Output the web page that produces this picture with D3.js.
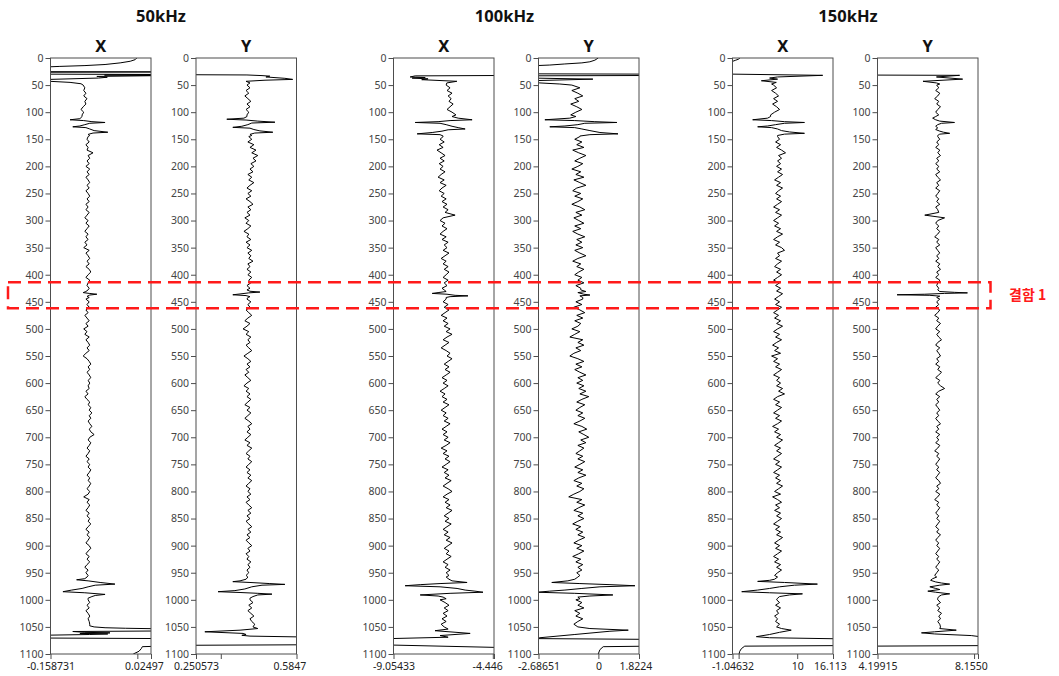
<!DOCTYPE html>
<html>
<head>
<meta charset="utf-8">
<script src="https://cdn.jsdelivr.net/npm/d3@7"></script>
<style>
  body { margin: 0; background: #fff; }
  svg { display: block; }
</style>
</head>
<body>
<svg id="chart" width="1059" height="676"></svg>
<script>
// ---------------- data ----------------
const frequencies = ["50kHz", "100kHz", "150kHz"];
const depthTicks = d3.range(0, 1101, 50);
const bodyDepths = d3.range(50, 1046, 5);   // regular sampling depths; null = taken from a burst list
const defectDepth = [414, 462];
const defectLabel = "결함 1";

// 50kHz X
const x50Domain = [-0.158731, 0.02497];
const x50Ticks = [-0.158731, 0, 0.02497];
const x50Labels = ["-0.158731", "", "0.02497"];
const x50Head = [[0,-0.0011],[3,-0.0039],[6,-0.013],[9,-0.0314],[12,-0.059],[14,-0.0957],[15.5,-0.1416],[17,-0.178],[25.3,-0.178],[25.7,0.042],[26.2,-0.178],[29.8,-0.178],[30.4,0.042],[31.5,-0.06],[32.5,0.042],[34,-0.074],[35.5,-0.055],[37,-0.071],[39.5,-0.16],[42,-0.178],[43,-0.16],[45,-0.123],[47.5,-0.103]];
const x50Body = [
  -0.099,-0.096,-0.098,-0.094,-0.098,-0.092,-0.096,-0.094,-0.099,-0.103,
  -0.098,-0.101,null,null,null,null,null,null,null,-0.090,
  -0.092,-0.088,-0.094,-0.090,-0.092,-0.081,-0.090,-0.087,-0.092,-0.088,
  -0.094,-0.087,-0.092,-0.088,-0.094,-0.090,-0.087,-0.092,-0.088,-0.094,
  -0.090,-0.087,-0.092,-0.088,-0.094,-0.090,-0.094,-0.088,-0.092,-0.096,
  -0.090,-0.094,-0.088,-0.092,-0.096,-0.090,-0.094,-0.090,-0.096,-0.092,
  -0.098,-0.088,-0.094,-0.090,-0.087,-0.092,-0.088,-0.094,-0.088,-0.085,
  -0.090,-0.094,-0.087,-0.090,-0.092,-0.088,null,null,null,-0.094,
  -0.088,-0.092,-0.088,-0.094,-0.090,-0.096,-0.092,-0.088,-0.094,-0.090,
  -0.098,-0.092,-0.096,-0.088,-0.094,-0.090,-0.087,-0.092,-0.088,-0.094,
  -0.099,-0.092,-0.088,-0.085,-0.090,-0.087,-0.092,-0.088,-0.085,-0.090,
  -0.087,-0.090,-0.088,-0.094,-0.090,-0.096,-0.092,-0.087,-0.090,-0.085,
  -0.088,-0.083,-0.088,-0.085,-0.090,-0.087,-0.083,-0.088,-0.085,-0.079,
  -0.087,-0.090,-0.085,-0.088,-0.092,-0.087,-0.090,-0.094,-0.088,-0.092,
  -0.087,-0.090,-0.085,-0.088,-0.092,-0.087,-0.090,-0.085,-0.088,-0.092,
  -0.087,-0.090,-0.098,-0.088,-0.092,-0.087,-0.090,-0.094,-0.088,-0.092,
  -0.087,-0.090,-0.085,-0.090,-0.094,-0.088,-0.092,-0.087,-0.090,-0.094,
  -0.088,-0.085,-0.090,-0.094,-0.088,-0.092,-0.087,-0.092,-0.096,-0.090,
  -0.094,-0.090,null,null,null,null,null,null,null,null,
  -0.090,-0.087,-0.092,-0.088,-0.094,-0.090,-0.087,-0.090,-0.088,-0.087
];
const x50Bursts = [
  [[108,-0.101],[112,-0.105],[114,-0.123],[115.5,-0.098],[117.5,-0.083],[119,-0.059],[120.5,-0.087],[123,-0.096],[125.5,-0.105],[127,-0.118],[128.5,-0.094],[131,-0.087],[134,-0.079],[137,-0.054],[138.5,-0.081],[141,-0.090],[143,-0.087]],
  [[428,-0.090],[431,-0.094],[433,-0.099],[434.5,-0.088],[436,-0.074],[437.5,-0.087],[440,-0.092],[442,-0.088]],
  [[958,-0.092],[961,-0.096],[963,-0.111],[965,-0.090],[968,-0.068],[971,-0.041],[973,-0.077],[976,-0.090],[979,-0.101],[982,-0.120],[985,-0.136],[987,-0.096],[990,-0.059],[992,-0.077],[994,-0.083],[997,-0.090]]
];
const x50Tail = [[1048,-0.087],[1050,-0.079],[1051.5,-0.059],[1052.5,-0.022],[1053.5,0.042],[1057.5,0.042],[1058.5,-0.118],[1060,-0.096],[1061,-0.05],[1062,-0.105],[1063,-0.054],[1064,-0.087],[1065.5,-0.178],[1070.5,-0.178],[1071.5,0.042],[1085.5,0.042],[1086.5,0.0091],[1090,0.0073],[1095,0.003],[1100,-0.0075]];

// 50kHz Y
const y50Domain = [0.250573, 0.5847];
const y50Ticks = [0.250573, 0.333, 0.5847];
const y50Labels = ["0.250573", "", "0.5847"];
const y50Head = [[0,0.198],[30.8,0.198],[31.3,0.42],[32.5,0.47],[33.5,0.496],[35,0.483],[37.5,0.546],[39.5,0.572],[41,0.48],[43,0.417],[46,0.43]];
const y50Body = [
  .420,.430,.417,.426,.413,.423,.433,.420,.430,.417,
  .426,.420,null,null,null,null,null,null,null,.426,
  .436,.423,.443,.430,.450,.436,.456,.440,.450,.433,
  .443,.430,.440,.423,.436,.426,.443,.430,.420,.436,
  .423,.433,.417,.430,.440,.423,.433,.420,.430,.413,
  .426,.417,.433,.423,.410,.426,.420,.433,.417,.430,
  .420,.436,.423,.433,.426,.440,.423,.430,.420,.433,
  .423,.436,.426,.433,.420,.430,null,null,null,.420,
  .433,.423,.430,.417,.426,.436,.423,.413,.430,.420,
  .407,.426,.417,.433,.423,.430,.417,.426,.436,.423,
  .410,.423,.433,.420,.430,.417,.426,.413,.423,.433,
  .420,.410,.426,.417,.430,.420,.433,.423,.413,.430,
  .420,.433,.423,.413,.426,.436,.423,.430,.420,.433,
  .423,.413,.430,.420,.436,.426,.417,.430,.423,.436,
  .426,.417,.430,.420,.433,.423,.436,.426,.417,.430,
  .423,.433,.420,.430,.417,.426,.436,.423,.433,.420,
  .430,.417,.426,.436,.423,.433,.420,.430,.417,.426,
  .436,.423,.430,.417,.426,.420,.433,.423,.430,.420,
  .426,.417,null,null,null,null,null,null,null,null,
  .430,.440,.426,.436,.423,.433,.443,.430,.436,.446
];
const y50Bursts = [
  [[108,.420],[111,.410],[113,.353],[114.5,.417],[116.5,.456],[118.5,.513],[120,.436],[123,.423],[126,.403],[128,.373],[129.5,.430],[132,.443],[134.5,.463],[137,.506],[138.5,.446],[141,.430],[143,.436]],
  [[428,.420],[430.5,.430],[432,.463],[433.5,.426],[435.5,.397],[437,.373],[438.5,.417],[440.5,.430],[442,.423]],
  [[958,.423],[962,.417],[965,.397],[966.5,.373],[968,.430],[970,.496],[971.5,.546],[973,.470],[976,.436],[980,.413],[983,.380],[985,.324],[986.5,.397],[988,.456],[989.5,.503],[991,.456],[994,.440],[997,.430]]
];
const y50Tail = [[1050,0.44],[1053,0.456],[1056,0.397],[1059,0.28],[1062,0.407],[1064,0.417],[1065.5,0.403],[1067,0.43],[1068.5,0.596],[1083,0.596],[1084,0.198],[1100,0.198]];

// 100kHz X
const x100Domain = [-9.05433, -4.446];
const x100Ticks = [-9.05433, -4.5, -4.446];
const x100Labels = ["-9.05433", "", "-4.446"];
const x100Head = [[0,-4.17],[32.3,-4.17],[33,-8.06],[35,-8.29],[36,-7.6],[37,-8.2],[38.5,-7.47],[40,-7.76],[43,-6.15],[46,-6.61]];
const x100Body = [
  -6.64,-6.46,-6.60,-6.37,-6.55,-6.41,-6.51,-6.32,-6.46,-6.60,
  -6.37,-6.19,null,null,null,null,null,null,null,-6.78,
  -6.92,-6.73,-6.96,-6.78,-7.06,-6.87,-6.69,-6.92,-6.73,-6.96,
  -6.78,-6.92,-6.69,-6.87,-7.01,-6.73,-6.92,-6.64,-6.83,-6.96,
  -6.73,-6.87,-6.64,-6.83,-6.60,-6.78,-6.55,-6.69,-6.23,-6.78,
  -6.92,-6.69,-6.83,-6.60,-6.78,-6.92,-6.64,-6.83,-6.55,-6.73,
  -6.60,-6.78,-6.51,-6.69,-6.87,-6.64,-6.78,-6.55,-6.73,-6.51,
  -6.64,-6.78,-6.55,-6.73,-6.60,-6.83,null,null,null,-6.64,
  -6.78,-6.55,-6.73,-6.51,-6.69,-6.87,-6.60,-6.78,-6.55,-6.73,
  -6.46,-6.64,-6.37,-6.60,-6.78,-6.51,-6.69,-6.87,-6.64,-6.46,
  -6.60,-6.37,-6.55,-6.73,-6.51,-6.69,-6.46,-6.64,-6.83,-6.60,
  -6.78,-6.55,-6.73,-6.92,-6.69,-6.83,-6.60,-6.78,-6.51,-6.69,
  -6.87,-6.64,-6.78,-6.55,-6.73,-6.46,-6.64,-6.83,-6.60,-6.78,
  -6.55,-6.73,-6.46,-6.64,-6.87,-6.60,-6.78,-6.51,-6.69,-6.46,
  -6.64,-6.83,-6.55,-6.73,-6.51,-6.69,-6.41,-6.60,-6.78,-6.55,
  -6.37,-6.60,-6.78,-6.51,-6.69,-6.46,-6.64,-6.37,-6.55,-6.73,
  -6.51,-6.69,-6.41,-6.60,-6.78,-6.55,-6.73,-6.46,-6.64,-6.37,
  -6.55,-6.73,-6.51,-6.64,-6.41,-6.60,-6.78,-6.55,-6.69,-6.46,
  -6.64,-6.51,null,null,null,null,null,null,null,null,
  -6.92,-6.69,-6.51,-6.73,-6.55,-6.78,-6.60,-6.83,-6.64,-6.87
];
const x100Bursts = [
  [[108,-6.37],[111,-6.09],[114,-5.45],[115.5,-6.46],[117.5,-7.01],[119,-8.06],[120.5,-6.92],[123,-6.64],[126,-6.37],[128.5,-6.09],[131,-5.77],[132.5,-6.55],[135,-6.83],[137.5,-7.28],[140,-7.97],[141.5,-6.92],[144,-6.78]],
  [[428,-6.73],[431,-6.64],[433,-7.01],[434.5,-7.28],[436,-6.60],[438,-6.23],[439,-5.64],[440.5,-6.46],[442,-6.64]],
  [[958,-6.64],[962,-6.51],[965,-6.37],[968,-5.68],[970,-6.92],[972,-7.83],[974,-8.52],[976,-6.92],[979,-6.14],[982,-5.77],[984,-5.32],[986,-4.95],[988,-6.46],[991,-7.83],[993,-7.01],[995,-6.78],[998,-6.64]]
];
const x100Tail = [[1050,-6.73],[1054,-6.55],[1057,-7.15],[1062,-5.54],[1066,-6.92],[1069,-6.55],[1072,-9.66],[1083,-9.66],[1088,-4.17],[1100,-4.17]];

// 100kHz Y
const y100Domain = [-2.68651, 1.8224];
const y100Ticks = [-2.68651, 0, 1.8224];
const y100Labels = ["-2.68651", "0", "1.8224"];
const y100Head = [[0,-0.007],[4,-0.156],[7,-0.381],[9,-0.74],[11,-1.504],[13,-2.179],[14.5,-3.078],[29.2,-3.078],[29.8,2.317],[32.3,2.317],[32.9,-3.078],[37,-3.078],[39,-0.246],[42,-3.078],[46,-2.628],[48,-1.73]];
const y100Body = [
  -1.19,-0.83,-1.19,-0.92,-0.70,-1.06,-0.88,-1.24,-0.97,-0.74,
  -1.01,-1.24,null,null,null,null,null,null,null,-0.83,
  -1.06,-0.74,-0.97,-0.65,-1.15,-0.88,-0.56,-0.83,-1.06,-0.70,
  -0.92,-1.19,-0.79,-1.01,-0.65,-1.10,-0.83,-0.56,-0.97,-1.15,
  -0.79,-1.06,-0.70,-0.92,-1.19,-0.83,-0.61,-1.01,-0.74,-1.10,
  -0.88,-0.65,-1.06,-0.79,-1.15,-0.92,-0.61,-0.97,-0.74,-1.01,
  -0.70,-1.06,-0.83,-0.56,-0.92,-1.15,-0.79,-0.97,-0.65,-0.88,
  -1.06,-0.74,-0.92,-0.65,-1.01,-0.79,null,null,null,-0.70,
  -1.01,-0.74,-1.10,-0.83,-0.61,-0.97,-0.70,-1.06,-0.79,-0.92,
  -1.19,-0.83,-1.06,-1.28,-0.70,-0.92,-0.65,-1.01,-0.79,-1.10,
  -1.28,-0.92,-0.65,-1.01,-0.74,-1.06,-0.83,-0.56,-0.92,-0.70,
  -0.97,-0.65,-0.88,-0.56,-0.83,-0.43,-0.74,-0.97,-0.61,-0.83,
  -1.01,-0.70,-0.92,-0.61,-0.83,-1.10,-0.74,-0.52,-0.88,-0.65,
  -0.43,-0.79,-0.56,-0.92,-0.65,-0.83,-1.01,-0.70,-0.92,-0.61,
  -0.83,-1.06,-0.70,-0.92,-0.56,-0.88,-1.10,-0.74,-0.97,-0.65,
  -0.83,-1.10,-1.33,-0.74,-0.97,-0.61,-0.88,-1.10,-0.70,-0.92,
  -0.65,-0.92,-1.15,-0.79,-1.01,-0.70,-0.92,-0.61,-0.88,-1.10,
  -0.74,-0.97,-0.65,-0.88,-1.15,-0.79,-1.01,-0.70,-0.92,-0.74,
  -0.97,-0.83,null,null,null,null,null,null,null,null,
  -1.01,-0.74,-0.92,-0.65,-1.06,-0.83,-1.01,-0.70,-0.92,-1.10
];
const y100Bursts = [
  [[108,-1.01],[111,-1.28],[114,-2.40],[115.5,-1.06],[117.5,-0.16],[119,0.83],[120.5,-0.61],[123,-0.92],[125.5,-1.50],[127,-2.18],[128.5,-1.06],[131,-0.74],[134,-0.38],[137.5,0.07],[140,0.88],[141.5,-0.38],[144,-0.83]],
  [[428,-0.79],[431,-0.56],[433,-0.92],[436,-0.65],[437.5,-0.38],[439,-0.83],[442,-0.70]],
  [[958,-0.92],[962,-1.06],[965,-1.37],[968,-2.09],[970,-0.83],[972,0.52],[974,1.64],[976,0.07],[979,-0.74],[982,-1.50],[984,-2.18],[986,-2.76],[988,-1.06],[991,0.65],[993,-0.38],[995,-0.92],[998,-0.83]]
];
const y100Tail = [[1050,-0.92],[1053,-0.381],[1056,1.341],[1058,0.518],[1064,-1.055],[1070,-2.628],[1071.5,-3.078],[1073,2.317],[1085.5,2.317],[1086.5,0.217],[1092,0.069],[1100,-0.007]];

// 150kHz X
const x150Domain = [-1.04632, 16.113];
const x150Ticks = [-1.04632, 0, 10, 16.113];
const x150Labels = ["-1.04632", "", "10", "16.113"];
const x150Head = [[0,0.194],[2,0.024],[4,-0.486],[6,-0.995],[8,-2.355],[29.6,-2.355],[32,14.35],[35,6.65],[37,5.29],[39,6.65],[42,3.88],[45,6.43],[48,5.63]];
const x150Body = [
  5.97,6.48,5.63,6.31,6.82,5.97,6.65,5.80,6.48,6.99,
  6.14,5.46,null,null,null,null,null,null,null,6.65,
  6.99,6.31,7.16,6.48,7.33,8.01,6.82,7.33,6.65,7.16,
  6.48,7.33,6.65,7.50,6.82,6.14,7.16,6.48,7.50,6.82,
  6.31,7.16,6.48,7.33,6.65,5.97,6.99,6.31,7.33,6.65,
  5.97,6.82,6.14,7.16,6.48,7.50,6.65,5.97,6.99,6.31,
  7.33,7.84,6.65,6.99,6.31,7.33,6.65,6.14,7.16,6.48,
  7.33,6.65,5.97,6.99,6.31,7.16,6.48,7.50,6.82,6.14,
  6.99,6.31,7.33,6.65,5.97,6.82,6.14,7.16,6.48,7.50,
  6.65,5.97,6.99,6.31,7.33,6.48,5.80,6.82,6.14,7.16,
  5.63,6.65,5.97,6.99,6.31,7.33,6.65,5.97,6.99,6.48,
  7.16,6.48,7.50,6.82,7.84,6.65,5.97,6.99,6.31,7.33,
  6.65,5.97,6.99,6.31,7.33,6.65,5.80,6.82,6.14,7.16,
  6.48,7.50,6.82,6.14,7.16,6.48,7.33,6.65,5.97,6.99,
  6.31,7.33,6.65,5.97,6.99,6.31,7.16,6.48,7.50,6.82,
  6.14,7.16,5.80,6.65,7.33,6.31,6.99,6.14,7.16,6.48,
  7.33,6.65,5.97,6.99,6.31,7.16,6.48,7.50,6.82,6.14,
  6.99,6.31,7.33,6.65,5.97,6.82,6.14,7.16,6.48,7.33,
  6.65,6.14,null,null,null,null,null,null,null,null,
  6.48,6.99,6.31,7.16,6.48,6.82,6.14,6.65,6.31,6.99
];
const x150Bursts = [
  [[108,5.46],[111,4.95],[114,2.40],[115.5,5.63],[117.5,7.84],[119,11.24],[120.5,7.84],[123,6.31],[125.5,4.95],[127,3.25],[128.5,5.63],[131,6.65],[134,7.33],[136.5,8.69],[139,11.24],[140.5,7.84],[143,6.65]],
  [[958,6.65],[962,6.14],[964,5.29],[966,3.25],[968,7.84],[971,13.45],[973,9.54],[976,6.99],[979,5.29],[982,3.25],[985,0.53],[987,5.29],[989,10.90],[991,8.69],[994,6.99],[997,6.65]]
];
const x150Tail = [[1050,6.48],[1053,7.33],[1056,8.98],[1060,6.99],[1064,5.29],[1068,3.03],[1070,5.29],[1072,17.18],[1084.5,17.18],[1085.5,1.04],[1090,0.48],[1095,0.19],[1100,0.075]];

// 150kHz Y
const y150Domain = [4.19915, 8.155];
const y150Ticks = [4.19915, 8, 8.155];
const y150Labels = ["4.19915", "", "8.1550"];
const y150Head = [[0,3.91],[31.5,3.91],[32,7.43],[35,6.52],[39,7.55],[43,5.99],[46,6.52],[48,6.65]];
const y150Body = [
  6.53,6.61,6.49,6.65,6.57,6.45,6.61,6.53,6.68,6.57,
  6.49,6.61,null,null,null,null,null,null,null,6.57,
  6.65,6.53,6.61,6.49,6.65,6.57,6.68,6.53,6.61,6.49,
  6.61,6.53,6.65,6.49,6.57,6.68,6.53,6.61,6.49,6.65,
  6.57,6.49,6.61,6.53,6.65,6.49,6.57,6.61,6.06,6.84,
  6.57,6.49,6.61,6.53,6.65,6.57,6.45,6.61,6.53,6.65,
  6.49,6.57,6.65,6.53,6.61,6.49,6.65,6.57,6.68,6.53,
  6.61,6.49,6.65,6.57,6.53,6.61,null,null,null,6.65,
  6.53,6.61,6.49,6.65,6.57,6.45,6.61,6.53,6.68,6.57,
  6.49,6.65,6.53,6.61,6.72,6.57,6.49,6.65,6.53,6.61,
  6.68,6.53,6.61,6.49,6.65,6.57,6.72,6.61,6.49,6.65,
  6.57,6.68,6.84,6.61,6.49,6.65,6.53,6.61,6.49,6.57,
  6.65,6.53,6.61,6.49,6.57,6.68,6.53,6.61,6.49,6.65,
  6.53,6.61,6.49,6.65,6.57,6.45,6.61,6.53,6.65,6.57,
  6.49,6.61,6.53,6.65,6.57,6.49,6.61,6.68,6.53,6.61,
  6.49,6.65,6.57,6.45,6.61,6.53,6.65,6.57,6.49,6.61,
  6.53,6.65,6.57,6.49,6.61,6.53,6.68,6.57,6.49,6.61,
  6.53,6.65,6.57,6.49,6.61,6.53,6.65,6.57,6.49,6.61,
  6.53,6.45,null,null,null,null,null,null,null,null,
  6.57,6.68,6.53,6.65,6.57,6.72,6.61,6.68,6.57,6.65
];
const y150Bursts = [
  [[108,6.49],[111,6.37],[114,6.49],[116.5,6.65],[119,7.23],[120.5,6.72],[123,6.57],[126,6.49],[129,6.57],[132,6.49],[135,6.65],[137,6.80],[139,7.04],[140.5,6.65],[143,6.57]],
  [[428,6.57],[431,6.65],[432.5,7.23],[433.5,7.74],[434.5,6.84],[436,6.06],[437,4.97],[438,6.26],[439.5,6.65],[442,6.53]],
  [[958,6.53],[961,6.37],[964,6.29],[967,6.49],[969,6.72],[971,7.04],[973,6.65],[976,6.26],[979,6.49],[981,6.65],[984,6.18],[986,6.49],[989,7.04],[991,6.72],[994,6.61],[997,6.57]]
];
const y150Tail = [[1050,6.68],[1053,6.65],[1056,7.3],[1059,6.45],[1061,5.93],[1063,6.45],[1066,7.89],[1069,8.4],[1084.5,8.4],[1085.5,3.91],[1100,3.91]];

const panels = [
  { channel: "X", domain: x50Domain,  ticks: x50Ticks,  labels: x50Labels,  head: x50Head,  body: x50Body,  bursts: x50Bursts,  tail: x50Tail },
  { channel: "Y", domain: y50Domain,  ticks: y50Ticks,  labels: y50Labels,  head: y50Head,  body: y50Body,  bursts: y50Bursts,  tail: y50Tail },
  { channel: "X", domain: x100Domain, ticks: x100Ticks, labels: x100Labels, head: x100Head, body: x100Body, bursts: x100Bursts, tail: x100Tail },
  { channel: "Y", domain: y100Domain, ticks: y100Ticks, labels: y100Labels, head: y100Head, body: y100Body, bursts: y100Bursts, tail: y100Tail },
  { channel: "X", domain: x150Domain, ticks: x150Ticks, labels: x150Labels, head: x150Head, body: x150Body, bursts: x150Bursts, tail: x150Tail },
  { channel: "Y", domain: y150Domain, ticks: y150Ticks, labels: y150Labels, head: y150Head, body: y150Body, bursts: y150Bursts, tail: y150Tail }
];

// ---------------- layout ----------------
const plotTop = 58, plotBottom = 654;
const panelLeft = [50.5, 196, 393.5, 538.5, 732.5, 877.5];
const panelWidth = 100.5;
const freqTitleX = [161, 504.5, 848];
const lastLabelShift = [-26.5, -23.5, -22, -20, -19.5, -23.5];
const bandX = [8, 990.5];

const fontUI = "'Noto Sans', 'Open Sans', sans-serif";
const svg = d3.select("#chart");
const y = d3.scaleLinear().domain([0, 1100]).range([plotTop, plotBottom]);

// frequency titles
svg.selectAll("text.freq")
  .data(frequencies)
  .join("text")
  .attr("class", "freq")
  .attr("x", (d, i) => freqTitleX[i])
  .attr("y", 22)
  .attr("text-anchor", "middle")
  .style("font-family", fontUI)
  .style("font-weight", "bold")
  .style("font-size", "16.5px")
  .attr("fill", "#111")
  .text(d => d);

const defs = svg.append("defs");
const line = d3.line().x(d => d.x).y(d => d.y);

panels.forEach((p, i) => {
  const x0 = panelLeft[i], x1 = x0 + panelWidth;
  const x = d3.scaleLinear().domain(p.domain).range([x0, x1]);
  const g = svg.append("g");

  // channel header
  g.append("text")
    .attr("x", (x0 + x1) / 2)
    .attr("y", 51.5)
    .attr("text-anchor", "middle")
    .style("font-family", fontUI)
    .style("font-weight", "bold")
    .style("font-size", "16.5px")
    .attr("fill", "#111")
    .text(p.channel);

  const clipId = "clip" + i;
  defs.append("clipPath").attr("id", clipId)
    .append("rect")
    .attr("x", x0).attr("y", plotTop)
    .attr("width", x1 - x0).attr("height", plotBottom - plotTop);

  // trace: head + regular samples + bursts + tail, ordered by depth
  const regular = p.body
    .map((v, k) => (v === null ? null : [bodyDepths[k], v]))
    .filter(Boolean);
  const samples = p.head.concat(regular, ...p.bursts, p.tail)
    .sort((a, b) => a[0] - b[0]);
  const pts = samples.map(([d, v]) => ({ x: x(v), y: y(d) }));

  g.append("path")
    .attr("clip-path", `url(#${clipId})`)
    .attr("d", line(pts))
    .attr("fill", "none")
    .attr("stroke", "#000")
    .attr("stroke-width", 1)
    .attr("stroke-linejoin", "round");

  // frame
  g.append("rect")
    .attr("x", x0).attr("y", plotTop)
    .attr("width", x1 - x0).attr("height", plotBottom - plotTop)
    .attr("fill", "none")
    .attr("stroke", "#4d4d4d")
    .attr("stroke-width", 1);

  // depth axis
  const ay = g.append("g")
    .attr("transform", `translate(${x0},0)`)
    .call(d3.axisLeft(y).tickValues(depthTicks).tickSize(5).tickPadding(2).tickFormat(d3.format("d")));
  ay.select(".domain").remove();
  ay.selectAll(".tick line").attr("stroke", "#4d4d4d");
  ay.selectAll(".tick text")
    .style("font-family", fontUI)
    .style("font-size", "10.5px")
    .attr("fill", "#444");

  // value axis
  const ax = g.append("g")
    .attr("transform", `translate(0,${plotBottom})`)
    .call(d3.axisBottom(x).tickValues(p.ticks).tickSize(5).tickPadding(4)
      .tickFormat((d, k) => p.labels[k]));
  ax.select(".domain").remove();
  ax.selectAll(".tick line").attr("stroke", "#4d4d4d");
  ax.selectAll(".tick text")
    .style("font-family", fontUI)
    .style("font-size", "10.5px")
    .attr("fill", "#222");
  const n = p.ticks.length;
  ax.selectAll(".tick text").filter((d, k) => k === n - 1)
    .attr("text-anchor", "start")
    .attr("x", lastLabelShift[i]);
});

// highlighted defect band
svg.append("rect")
  .attr("x", bandX[0]).attr("y", y(defectDepth[0]))
  .attr("width", bandX[1] - bandX[0])
  .attr("height", y(defectDepth[1]) - y(defectDepth[0]))
  .attr("fill", "none")
  .attr("stroke", "#ff1a1a")
  .attr("stroke-width", 2.5)
  .attr("stroke-dasharray", "13,7");

svg.append("text")
  .attr("x", 1009)
  .attr("y", (y(defectDepth[0]) + y(defectDepth[1])) / 2 + 5)
  .style("font-family", "'Noto Sans CJK KR', sans-serif")
  .style("font-weight", "bold")
  .style("font-size", "14px")
  .attr("fill", "#ff1a1a")
  .text(defectLabel);
</script>
</body>
</html>
